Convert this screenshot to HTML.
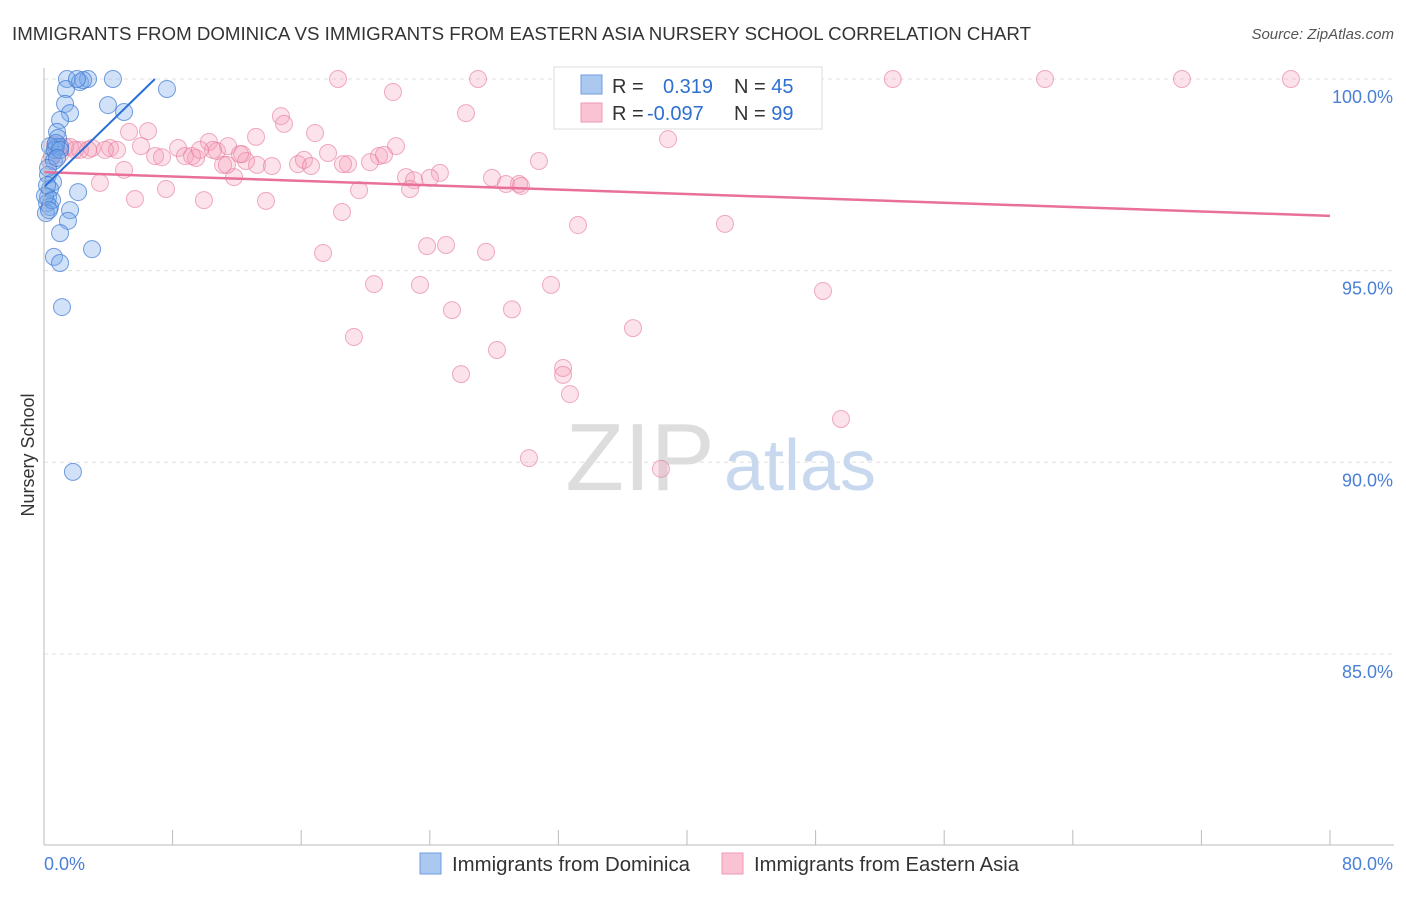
<!DOCTYPE html>
<html><head><meta charset="utf-8"><style>
body{margin:0;background:#fff;font-family:"Liberation Sans",sans-serif;}
svg text{font-family:"Liberation Sans",sans-serif;}
</style></head><body>
<svg id="chart" width="1406" height="892" xmlns="http://www.w3.org/2000/svg">
<text x="12" y="40" font-size="18" fill="#333" textLength="1019" lengthAdjust="spacingAndGlyphs">IMMIGRANTS FROM DOMINICA VS IMMIGRANTS FROM EASTERN ASIA NURSERY SCHOOL CORRELATION CHART</text>
<text x="1394" y="39" font-size="15" fill="#555" text-anchor="end" font-style="italic">Source: ZipAtlas.com</text>
<g id="grid"></g>
<text x="640" y="490" font-size="96" fill="#ddd" text-anchor="middle" font-family="Liberation Serif">ZIP</text>
<text x="800" y="490" font-size="72" fill="#c8d8ee" text-anchor="middle">atlas</text>
<g id="pts"></g>
<g id="axes"></g>
<text x="34" y="455" font-size="18" fill="#333" text-anchor="middle" transform="rotate(-90 34 455)">Nursery School</text>
<g>
<rect x="554" y="67" width="268" height="62" fill="#fff" stroke="#ddd"/>
<rect x="581" y="75" width="21" height="19" fill="#aac8f0" stroke="#6f9de0"/>
<rect x="581" y="103" width="21" height="19" fill="#f9c3d3" stroke="#ef9ab5"/>
<text x="612" y="93" font-size="20" fill="#333">R = <tspan x="663" fill="#2f6fd0">0.319</tspan><tspan x="734" fill="#333">N = </tspan><tspan fill="#2f6fd0">45</tspan></text>
<text x="612" y="120" font-size="20" fill="#333">R = <tspan x="647" fill="#2f6fd0">-0.097</tspan><tspan x="734" fill="#333">N = </tspan><tspan fill="#2f6fd0">99</tspan></text>
</g>
<g>
<rect x="420" y="853" width="21" height="21" fill="#aac8f0" stroke="#6f9de0"/>
<text x="452" y="871" font-size="20" fill="#333" textLength="238" lengthAdjust="spacingAndGlyphs">Immigrants from Dominica</text>
<rect x="722" y="853" width="21" height="21" fill="#f9c3d3" stroke="#ef9ab5"/>
<text x="754" y="871" font-size="20" fill="#333" textLength="265" lengthAdjust="spacingAndGlyphs">Immigrants from Eastern Asia</text>
</g>
</svg>
<script>
const blueX=[1.43,2.24,2.74,4.29,2.43,1.37,2.05,7.65,1.31,3.98,1.62,4.98,1.0,0.81,0.87,0.75,1.0,0.5,0.62,0.25,0.56,0.37,2.12,0.25,0.19,0.37,1.62,0.12,1.49,1.0,2.99,0.62,1.0,1.12,1.8,0.37,0.68,0.25,0.06,0.5,0.75,1.0,0.19,0.31,0.81];
const blueY=[100,99.92,100,100,99.97,99.74,100,99.74,99.35,99.32,99.11,99.14,98.93,98.62,98.46,98.23,98.23,97.99,97.86,97.5,97.31,97.13,97.05,96.92,96.76,96.66,96.58,96.5,96.3,95.98,95.56,95.36,95.2,94.05,89.75,98.25,98.15,97.68,96.95,96.84,98.33,98.15,97.23,96.58,97.94];
const pinkX=[18.29,27.0,38.94,43.05,52.8,62.27,70.79,77.57,21.71,14.74,26.25,14.93,5.29,6.47,16.86,38.82,21.9,0.68,1.62,2.24,2.99,4.11,4.54,6.03,6.91,7.34,8.34,8.77,9.46,10.26,10.76,11.14,11.45,11.82,12.32,12.57,13.25,14.18,15.8,16.17,16.61,17.67,18.91,20.84,21.15,22.52,23.02,24.63,27.87,28.74,29.55,29.67,30.79,3.48,4.98,7.59,5.66,9.95,13.81,18.54,19.6,22.77,11.38,33.22,42.36,17.36,23.83,25.01,27.5,20.53,23.39,31.54,48.46,25.38,29.11,36.64,19.28,28.18,32.29,32.29,25.94,32.72,49.58,30.17,38.38,1.0,1.31,1.93,9.21,10.51,13.19,18.6,20.28,24.01,0.37,2.74,12.19,9.7,3.79];
const pinkY=[100,100,100,100,100,100,100,100,99.66,99.03,99.11,98.83,98.62,98.64,98.59,98.43,98.25,98.28,98.23,98.15,98.2,98.2,98.15,98.25,97.99,97.96,98.2,97.99,97.94,98.36,98.12,97.76,98.25,97.44,98.04,97.86,97.76,97.73,97.78,97.89,97.73,98.07,97.78,97.99,98.02,97.44,97.36,97.55,97.42,97.26,97.26,97.21,97.86,97.29,97.63,97.13,96.87,96.84,96.82,96.53,97.1,97.13,97.76,96.19,96.22,95.46,95.64,95.67,95.49,94.65,94.63,94.63,94.47,93.97,93.99,93.5,93.27,92.93,92.46,92.28,92.3,91.78,91.13,90.11,89.83,98.04,98.23,98.15,97.99,98.15,98.49,97.78,97.83,97.42,97.86,98.15,98.04,98.15,98.15];
const blueTrend=[[0,97.18],[6.9,100]];
const pinkTrend=[[0,97.57],[80,96.43]];
const yTicks=[100,95,90,85];
const xTickLabels=["0.0%","80.0%"];
const NS="http://www.w3.org/2000/svg";
const sx=v=>44+v*1286/80, sy=v=>79+(100-v)*38.33;
function mk(tag,attrs,parent){const e=document.createElementNS(NS,tag);for(const k in attrs)e.setAttribute(k,attrs[k]);parent.appendChild(e);return e;}
const grid=document.getElementById('grid'),axes=document.getElementById('axes'),pts=document.getElementById('pts');
yTicks.forEach(t=>{
 const l=mk('line',{x1:44,x2:1394,y1:sy(t),y2:sy(t),stroke:'#e0e0e0','stroke-dasharray':'4,4'},grid);
 
 
 const tx=mk('text',{x:1393,y:sy(t)+24,'font-size':18,fill:'#4a7fd6','text-anchor':'end'},axes);
 tx.textContent=t.toFixed(1)+'%';
 
 
});
const ya=mk('line',{x1:44,x2:44,y1:68,y2:845,stroke:'#bbb'},axes);


const xa=mk('line',{x1:44,x2:1394,y1:845,y2:845,stroke:'#bbb'},axes);


for(let i=0;i<=10;i++){
 const t=mk('line',{x1:sx(i*8),x2:sx(i*8),y1:830,y2:845,stroke:'#bbb'},axes);
 
 
}
const xl0=mk('text',{x:44,y:870,'font-size':18,fill:'#4a7fd6'},axes);xl0.textContent=xTickLabels[0];


const xl1=mk('text',{x:1393,y:870,'font-size':18,fill:'#4a7fd6','text-anchor':'end'},axes);xl1.textContent=xTickLabels[1];


pinkX.forEach((x,i)=>{
 const c=mk('circle',{cx:sx(x),cy:sy(pinkY[i]),r:8.5,fill:'rgba(245,160,185,0.3)',stroke:'rgba(230,120,155,0.6)','stroke-width':1},pts);
 
 
});
blueX.forEach((x,i)=>{
 const c=mk('circle',{cx:sx(x),cy:sy(blueY[i]),r:8.5,fill:'rgba(120,170,235,0.35)',stroke:'rgba(60,120,210,0.7)','stroke-width':1},pts);
 
 
});
const pl=mk('line',{x1:sx(pinkTrend[0][0]),y1:sy(pinkTrend[0][1]),x2:sx(pinkTrend[1][0]),y2:sy(pinkTrend[1][1]),stroke:'#e8709a','stroke-width':2.5},pts);


const bl=mk('line',{x1:sx(blueTrend[0][0]),y1:sy(blueTrend[0][1]),x2:sx(blueTrend[1][0]),y2:sy(blueTrend[1][1]),stroke:'#2a6fd6','stroke-width':2},pts);


</script>
</body></html>
